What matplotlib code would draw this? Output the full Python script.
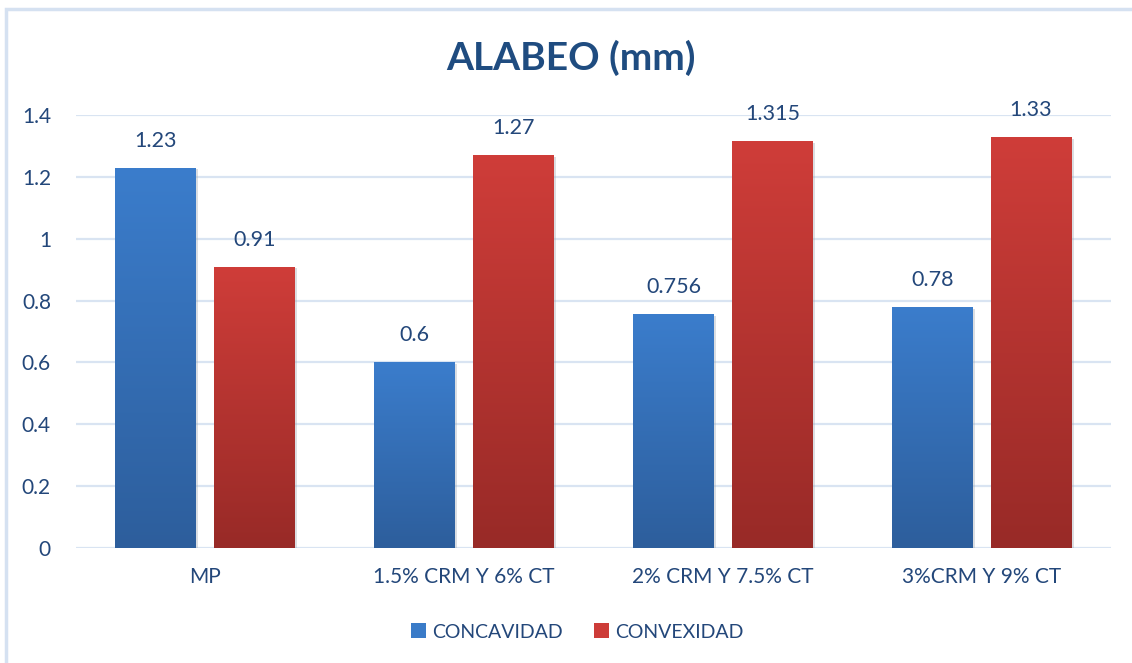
import numpy as np
import matplotlib.pyplot as plt
from matplotlib.colors import LinearSegmentedColormap
from matplotlib.patches import Rectangle

plt.rcParams['font.family'] = ['Lato', 'DejaVu Sans']

# Datos del ensayo de alabeo
categorias = ['MP', '1.5% CRM Y 6% CT', '2% CRM Y 7.5% CT', '3%CRM Y 9% CT']
concavidad = [1.23, 0.6, 0.756, 0.78]
convexidad = [0.91, 1.27, 1.315, 1.33]
etiquetas_conc = ['1.23', '0.6', '0.756', '0.78']
etiquetas_conv = ['0.91', '1.27', '1.315', '1.33']
yticks = [0, 0.2, 0.4, 0.6, 0.8, 1.0, 1.2, 1.4]
ytick_labels = ['0', '0.2', '0.4', '0.6', '0.8', '1', '1.2', '1.4']

text_color = '#23477a'
grid_color = '#d9e4f2'

fig = plt.figure(figsize=(11.32, 6.63), dpi=100)
fig.patch.set_facecolor('white')
fig.add_artist(Rectangle((0.005, -0.01), 1.2, 0.997, transform=fig.transFigure,
                         fill=False, edgecolor='#d5e1f1', linewidth=2.5))

ax = fig.add_axes([0.0671, 0.1735, 0.9144, 0.653])

x = np.arange(len(categorias))
width = 0.313
offset = 0.191

bars_a = ax.bar(x - offset, concavidad, width, color='#3a7bc8', zorder=3,
                label='CONCAVIDAD')
bars_b = ax.bar(x + offset, convexidad, width, color='#cd3c38', zorder=3,
                label='CONVEXIDAD')


def gradient_fill(bars, top, bottom):
    cmap = LinearSegmentedColormap.from_list('g', [bottom, top])
    grad = np.linspace(0, 1, 256).reshape(-1, 1)
    for b in bars:
        x0, y0 = b.get_x(), b.get_y()
        w, h = b.get_width(), b.get_height()
        # soft shadow on the right side
        sh = Rectangle((x0 + 0.008, y0 - 0.006), w, h, facecolor='#9aa3ad',
                       alpha=0.35, edgecolor='none', zorder=2)
        ax.add_patch(sh)
        im = ax.imshow(grad, extent=(x0, x0 + w, y0, y0 + h), origin='lower',
                       cmap=cmap, aspect='auto', zorder=3.5)
        im.set_clip_path(b)


gradient_fill(bars_a, '#3b7dcc', '#2d5e9c')
gradient_fill(bars_b, '#cf3d39', '#982a27')

for b, lab in zip(bars_a, etiquetas_conc):
    ax.text(b.get_x() + b.get_width() / 2, b.get_height() + 0.055, lab,
            ha='center', va='bottom', fontsize=15.5, color=text_color, zorder=5)
for b, lab in zip(bars_b, etiquetas_conv):
    ax.text(b.get_x() + b.get_width() / 2, b.get_height() + 0.055, lab,
            ha='center', va='bottom', fontsize=15.5, color=text_color, zorder=5)

ax.set_xlim(-0.5, len(categorias) - 0.5)
ax.set_ylim(0, 1.4)
ax.set_yticks(yticks)
ax.set_yticklabels(ytick_labels)
ax.set_xticks(x)
ax.set_xticklabels(categorias)
ax.tick_params(axis='both', length=0, labelsize=15, labelcolor=text_color)
ax.tick_params(axis='y', pad=18)
ax.tick_params(axis='x', pad=14)
ax.grid(axis='y', color=grid_color, linewidth=1.6, zorder=0)
ax.set_axisbelow(True)
for s in ax.spines.values():
    s.set_visible(False)

fig.text(0.504, 0.912, 'ALABEO (mm)', ha='center', va='center', fontsize=28,
         fontweight='bold', color='#1f4c80')

leg = ax.legend(handles=[bars_a, bars_b], loc='center', bbox_to_anchor=(0.484, -0.194),
                ncol=2, frameon=False, fontsize=14, handlelength=0.8, handleheight=0.8,
                handletextpad=0.3, columnspacing=1.6)
for t in leg.get_texts():
    t.set_color(text_color)

fig.savefig('out.png', dpi=100, facecolor='white')
